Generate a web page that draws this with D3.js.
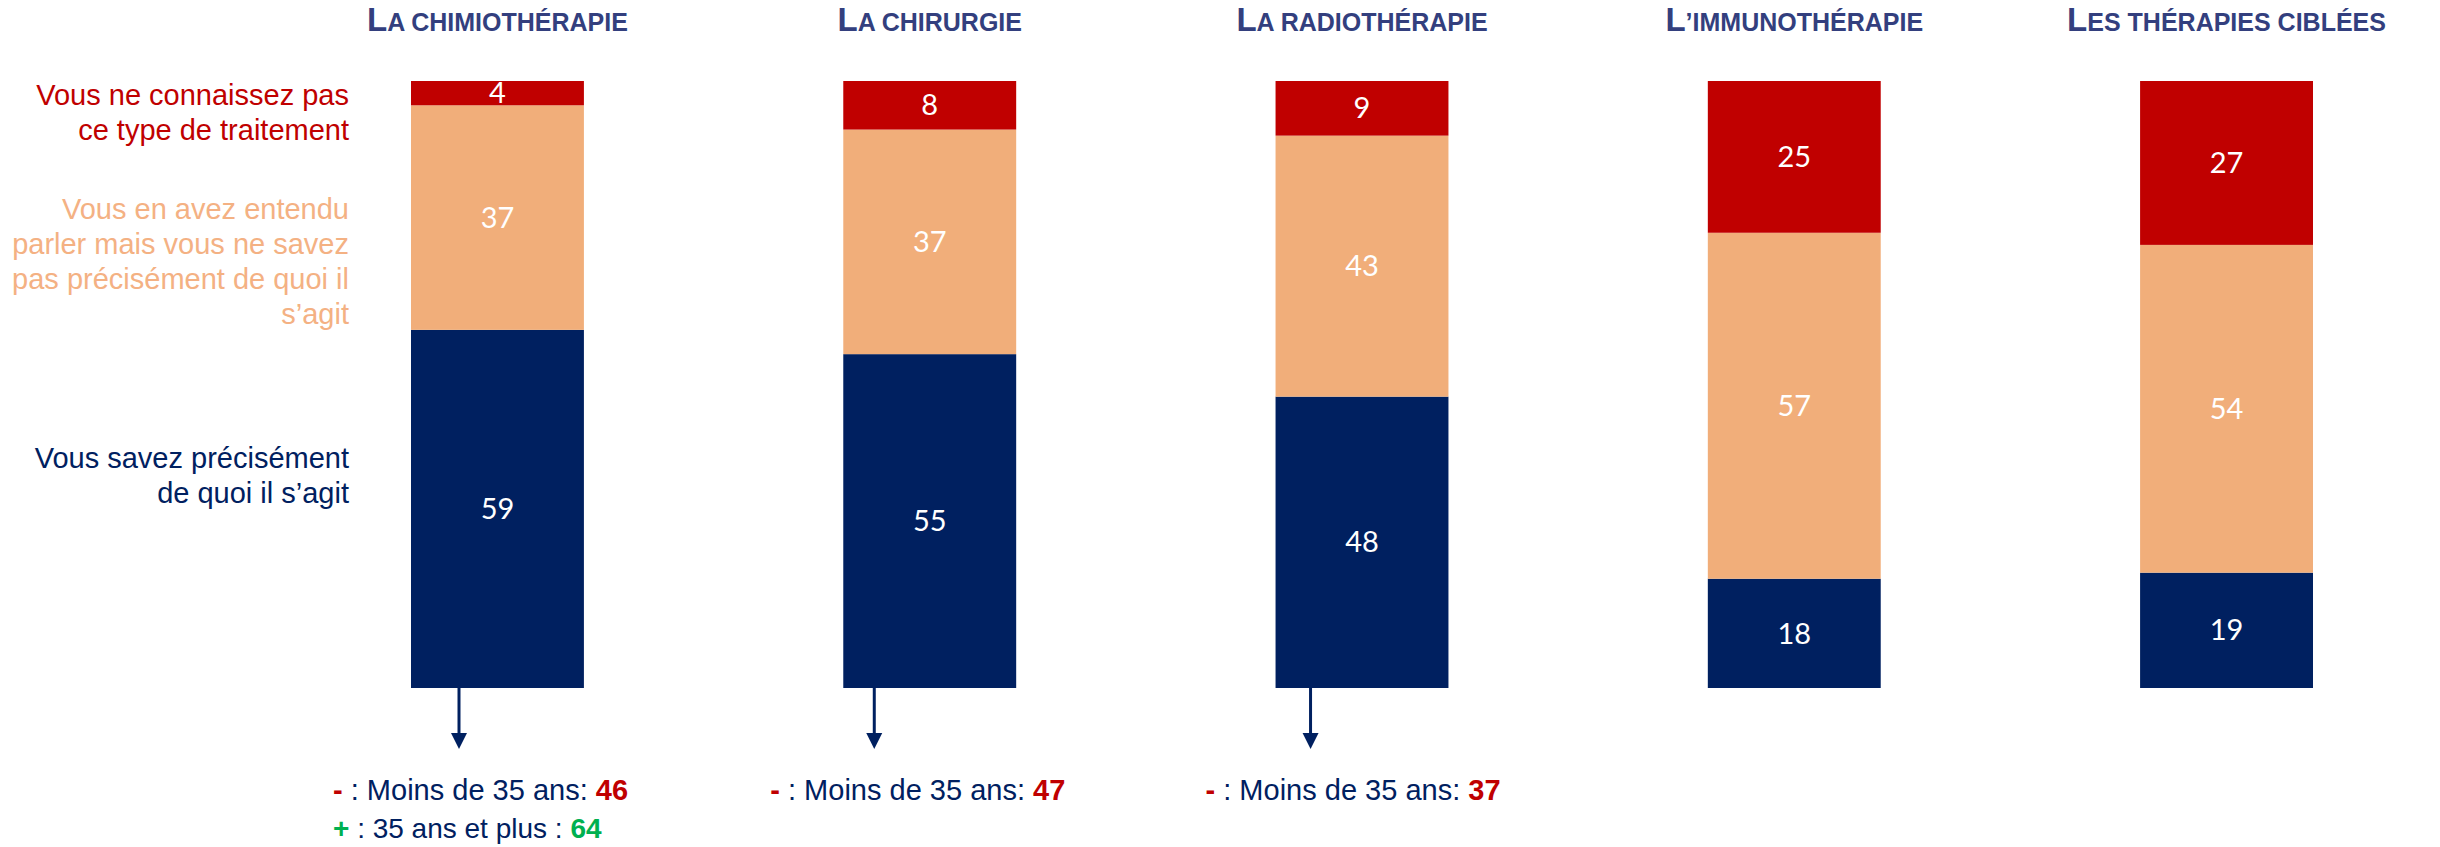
<!DOCTYPE html>
<html>
<head>
<meta charset="utf-8">
<script src="https://cdn.jsdelivr.net/npm/d3@7"></script>
<style>
  body { margin: 0; background: #fff; }
</style>
</head>
<body>
<svg id="chart" width="2440" height="847"></svg>
<script>
// Treatments (titles above each bar)
var treatments = ["LA CHIMIOTHÉRAPIE", "LA CHIRURGIE", "LA RADIOTHÉRAPIE", "L’IMMUNOTHÉRAPIE", "LES THÉRAPIES CIBLÉES"];

// Series values (%), bottom to top
var precise = [59, 55, 48, 18, 19];
var heard = [37, 37, 43, 57, 54];
var unknown = [4, 8, 9, 25, 27];

// Legend texts, one entry per line
var unknownLabel = ["Vous ne connaissez pas", "ce type de traitement"];
var heardLabel = ["Vous en avez entendu", "parler mais vous ne savez", "pas précisément de quoi il", "s’agit"];
var preciseLabel = ["Vous savez précisément", "de quoi il s’agit"];

// Age breakdown of "vous savez précisément" (first three treatments)
var under35 = [46, 47, 37];
var over35 = [64];

var colors = { precise: "#002060", heard: "#F1AE7A", unknown: "#C00000" };
var sans = "'Liberation Sans', Arial, sans-serif";

var svg = d3.select("#chart");

var table = treatments.map(function (t, i) {
  return { name: t, precise: precise[i], heard: heard[i], unknown: unknown[i] };
});

var keys = ["precise", "heard", "unknown"];
var stacked = d3.stack().keys(keys)(table);

var x = d3.scaleBand().domain(treatments).range([411, 2313]).paddingInner(0.6).paddingOuter(0);
var y = d3.scaleLinear().domain([0, 100]).range([688, 81]);

// Stacked bars
var layers = svg.selectAll("g.layer")
  .data(stacked)
  .enter()
  .append("g")
  .attr("class", "layer")
  .style("fill", function (d) { return colors[d.key]; });

layers.selectAll("rect")
  .data(function (d) { return d; })
  .enter()
  .append("rect")
  .attr("x", function (d) { return x(d.data.name); })
  .attr("y", function (d) { return y(d[1]); })
  .attr("width", x.bandwidth())
  .attr("height", function (d) { return y(d[0]) - y(d[1]); });

// Value labels
layers.selectAll("text")
  .data(function (d) { return d; })
  .enter()
  .append("text")
  .attr("x", function (d) { return x(d.data.name) + x.bandwidth() / 2; })
  .attr("y", function (d) { return (y(d[0]) + y(d[1])) / 2; })
  .attr("dy", "0.35em")
  .attr("text-anchor", "middle")
  .attr("font-family", "Lato, 'Open Sans', sans-serif")
  .attr("font-size", "29px")
  .style("fill", "#fff")
  .text(function (d) { return d[1] - d[0]; });

// Titles, first letter larger
var titles = svg.selectAll("text.title")
  .data(treatments)
  .enter()
  .append("text")
  .attr("class", "title")
  .attr("x", function (d) { return x(d) + x.bandwidth() / 2; })
  .attr("y", 31)
  .attr("text-anchor", "middle")
  .attr("font-family", sans)
  .attr("font-weight", "bold")
  .style("fill", "#333F7E");

titles.append("tspan").attr("font-size", "33px").text(function (d) { return d.charAt(0); });
titles.append("tspan").attr("font-size", "25px").text(function (d) { return d.slice(1); });

// Legend on the left
function legend(lines, color, y0) {
  svg.append("g")
    .selectAll("text")
    .data(lines)
    .enter()
    .append("text")
    .attr("x", 349)
    .attr("y", function (d, i) { return y0 + i * 35; })
    .attr("text-anchor", "end")
    .attr("font-family", sans)
    .attr("font-size", "29px")
    .style("fill", color)
    .text(function (d) { return d; });
}
legend(unknownLabel, "#C00000", 105);
legend(heardLabel, "#F4B183", 219);
legend(preciseLabel, "#002060", 468);

// Arrows + age breakdown under the first three bars
var arrowOffset = [48, 31, 35];
var textOffset = [-78, -73, -70];

under35.forEach(function (v, i) {
  var left = x(treatments[i]);
  var ax = left + arrowOffset[i];
  var bottom = y(0);
  svg.append("line")
    .attr("x1", ax).attr("x2", ax)
    .attr("y1", bottom).attr("y2", bottom + 48)
    .style("stroke", "#002060")
    .style("stroke-width", 3);
  svg.append("path")
    .attr("d", "M" + (ax - 8) + "," + (bottom + 45) + "L" + (ax + 8) + "," + (bottom + 45) + "L" + ax + "," + (bottom + 61) + "Z")
    .style("fill", "#002060");

  var t = svg.append("text")
    .attr("x", left + textOffset[i])
    .attr("y", 800)
    .attr("font-family", sans)
    .attr("font-size", "29px")
    .style("fill", "#002060");
  t.append("tspan").attr("font-weight", "bold").style("fill", "#C00000").text("-");
  t.append("tspan").text(" : Moins de 35 ans: ");
  t.append("tspan").attr("font-weight", "bold").style("fill", "#C00000").text(v);
});

over35.forEach(function (v, i) {
  var t = svg.append("text")
    .attr("x", x(treatments[i]) + textOffset[i])
    .attr("y", 838)
    .attr("font-family", sans)
    .attr("font-size", "28px")
    .style("fill", "#002060");
  t.append("tspan").attr("font-weight", "bold").style("fill", "#00B050").text("+");
  t.append("tspan").text(" : 35 ans et plus : ");
  t.append("tspan").attr("font-weight", "bold").style("fill", "#00B050").text(v);
});
</script>
</body>
</html>
